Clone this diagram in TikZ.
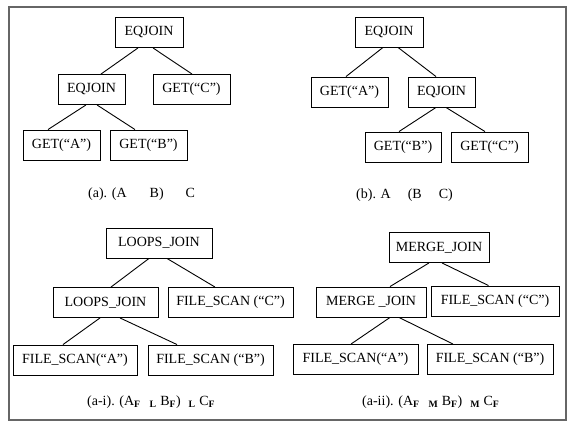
\documentclass[tikz,border=0pt]{standalone}
\usepackage{fontspec}
\setmainfont{Liberation Serif}
\newcommand{\sbf}[1]{\textsubscript{\textbf{#1}}}
\begin{document}
\begin{tikzpicture}[x=1pt,y=-1pt,
  box/.style={draw=black,line width=0.9pt,minimum height=30pt,inner sep=0pt,font=\fontsize{14}{16}\selectfont},
  captext/.style={anchor=west,inner sep=0pt,font=\fontsize{14}{16}\selectfont},
  link/.style={draw=black,line width=0.9pt}]
\useasboundingbox (0,0) rectangle (586,427);
\draw[black!60,line width=1.5pt] (9,7) rectangle (566,420);
% panel (a)
\node[box,minimum width=68pt] (a0) at (149,32.5) {EQJOIN};
\node[box,minimum width=67pt] (a1) at (91.5,89.5) {EQJOIN};
\node[box,minimum width=77pt] (aC) at (191.5,89.5) {GET(“C”)};
\node[box,minimum width=77pt] (aA) at (61.5,145) {GET(“A”)};
\node[box,minimum width=77pt] (aB) at (148.5,145) {GET(“B”)};
\draw[link] ([xshift=-11pt]a0.south) -- ([xshift=9.5pt]a1.north);
\draw[link] ([xshift=4pt]a0.south) -- ([xshift=0.5pt]aC.north);
\draw[link] ([xshift=-5.5pt]a1.south) -- ([xshift=-13.5pt]aA.north);
\draw[link] ([xshift=5.5pt]a1.south) -- ([xshift=-13.5pt]aB.north);
\node[captext] (acap) at (88,194) {(a). (A\hspace{23pt}B)\hspace{22pt}C};
% panel (b)
\node[box,minimum width=68pt] (b0) at (389,32) {EQJOIN};
\node[box,minimum width=77pt] (bA) at (349.5,92) {GET(“A”)};
\node[box,minimum width=67pt] (b1) at (441.5,92) {EQJOIN};
\node[box,minimum width=76pt] (bB) at (403,147) {GET(“B”)};
\node[box,minimum width=77pt] (bC) at (489.5,147) {GET(“C”)};
\draw[link] ([xshift=-6pt]b0.south) -- ([xshift=-3.5pt]bA.north);
\draw[link] ([xshift=9pt]b0.south) -- ([xshift=-5.5pt]b1.north);
\draw[link] ([xshift=-5.5pt]b1.south) -- ([xshift=-4pt]bB.north);
\draw[link] ([xshift=4.5pt]b1.south) -- ([xshift=-4.5pt]bC.north);
\node[captext] (bcap) at (356,195) {(b). A\hspace{17pt}(B\hspace{17pt}C)};
% panel (a-i)
\node[box,minimum width=106pt] (c0) at (159,243) {LOOPS\_JOIN};
\node[box,minimum width=105pt] (c1) at (105.5,302.5) {LOOPS\_JOIN};
\node[box,minimum width=125pt] (cC) at (230.5,302.5) {FILE\_SCAN (“C”)};
\node[box,minimum width=124pt] (cA) at (75,360) {FILE\_SCAN(“A”)};
\node[box,minimum width=125pt] (cB) at (210.5,360) {FILE\_SCAN (“B”)};
\draw[link] ([xshift=-10pt]c0.south) -- ([xshift=5.5pt]c1.north);
\draw[link] ([xshift=8pt]c0.south) -- ([xshift=-15.5pt]cC.north);
\draw[link] ([xshift=-5.5pt]c1.south) -- ([xshift=-12pt]cA.north);
\draw[link] ([xshift=14.5pt]c1.south) -- ([xshift=-33.5pt]cB.north);
\node[captext] (ccap) at (87,402) {(a-i). (A\sbf{F}\hspace{9pt}\sbf{L} B\sbf{F})\hspace{8pt}\sbf{L} C\sbf{F}};
% panel (a-ii)
\node[box,minimum width=100pt] (d0) at (439,247.5) {MERGE\_JOIN};
\node[box,minimum width=110pt] (d1) at (371,302) {MERGE \_JOIN};
\node[box,minimum width=128pt] (dC) at (495,301) {FILE\_SCAN (“C”)};
\node[box,minimum width=125pt] (dA) at (355.5,359.5) {FILE\_SCAN(“A”)};
\node[box,minimum width=126pt] (dB) at (490,359.5) {FILE\_SCAN (“B”)};
\draw[link] ([xshift=-10pt]d0.south) -- ([xshift=19pt]d1.north);
\draw[link] ([xshift=3pt]d0.south) -- ([xshift=-6.5pt]dC.north);
\draw[link] ([xshift=19pt]d1.south) -- ([xshift=-4.5pt]dA.north);
\draw[link] ([xshift=28pt]d1.south) -- ([xshift=-37pt]dB.north);
\node[captext] (dcap) at (362,402) {(a-ii). (A\sbf{F}\hspace{9pt}\sbf{M} B\sbf{F})\hspace{8pt}\sbf{M} C\sbf{F}};
\end{tikzpicture}
\end{document}
